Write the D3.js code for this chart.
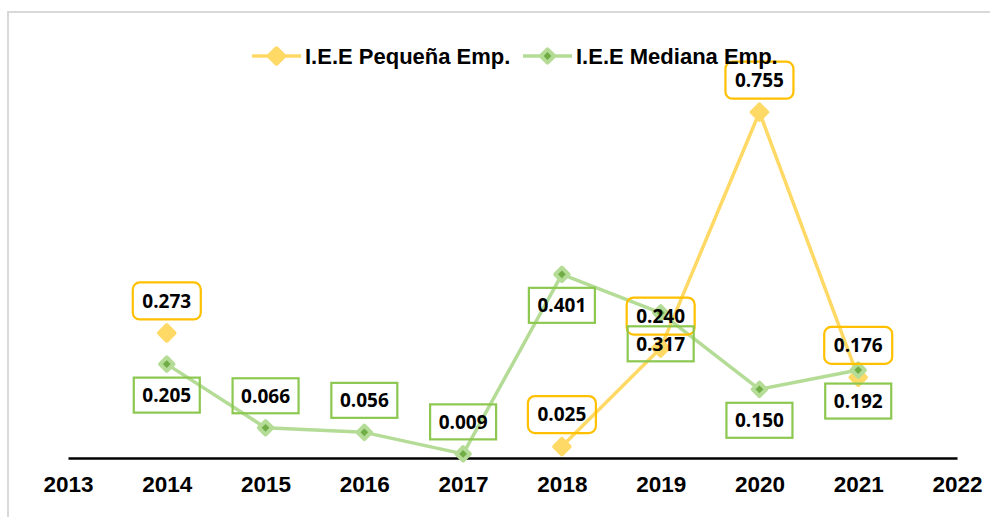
<!DOCTYPE html>
<html>
<head>
<meta charset="utf-8">
<script src="https://cdn.jsdelivr.net/npm/d3@7"></script>
<style>
  body { margin: 0; background: #fff; }
  svg { display: block; }
</style>
</head>
<body>
<svg id="chart" width="990" height="517"></svg>
<script>
// data
var years = [2013, 2014, 2015, 2016, 2017, 2018, 2019, 2020, 2021, 2022];
var dataYears = [2014, 2015, 2016, 2017, 2018, 2019, 2020, 2021];
var pequena = [0.273, null, null, null, 0.025, 0.240, 0.755, 0.176];
var mediana = [0.205, 0.066, 0.056, 0.009, 0.401, 0.317, 0.150, 0.192];
var pequenaLabelSide = ["up", null, null, null, "up", "up", "up", "up"];
var medianaLabelSide = ["down", "up", "up", "up", "down", "down", "down", "down"];
var seriesNames = ["I.E.E Pequeña Emp.", "I.E.E Mediana Emp."];

var svg = d3.select("#chart");

// outer frame (only top and left edges visible)
svg.append("rect")
    .attr("x", 8).attr("y", 12)
    .attr("width", 1000).attr("height", 520)
    .attr("fill", "none")
    .attr("stroke", "#d9d9d9")
    .attr("stroke-width", 2);

var x = d3.scalePoint().domain(years).range([68, 957]);
var y = d3.scaleLinear().domain([0, 0.8]).range([458, 91.6]);

// axis
var axis = svg.append("g")
    .attr("transform", "translate(0,458)")
    .call(d3.axisBottom(x).tickSize(0).tickPadding(18).tickFormat(d3.format("d")));
axis.select(".domain").attr("stroke", "#000").attr("stroke-width", 2.5);
axis.selectAll("text")
    .attr("font-family", "'Liberation Sans', Arial, sans-serif")
    .attr("font-weight", "bold")
    .attr("font-size", 22.5)
    .attr("fill", "#000");

var series = [
  { name: seriesNames[0], values: pequena, sides: pequenaLabelSide,
    line: "#ffd966", fill: "#ffd966", edge: "#ffd966", box: "#ffc000", rx: 7, bw: 68, bh: 37, msize: 120 },
  { name: seriesNames[1], values: mediana, sides: medianaLabelSide,
    line: "#b4dc96", fill: "#70ad47", edge: "#b4dc96", box: "#8cc850", rx: 0, bw: 66, bh: 35, msize: 90 }
];

series.forEach(function(s) {
  s.pts = dataYears.map(function(yr, i) { return { year: yr, v: s.values[i], side: s.sides[i] }; })
      .filter(function(d) { return true; });
  s.valid = s.pts.filter(function(d) { return d.v != null; });
});

var line = d3.line()
    .defined(function(d) { return d.v != null; })
    .x(function(d) { return x(d.year); })
    .y(function(d) { return y(d.v); });

var diamond = d3.symbol().type(d3.symbolSquare);

// lines and markers
series.forEach(function(s) {
  var g = svg.append("g");

  g.append("path")
      .datum(s.pts)
      .attr("d", line)
      .attr("fill", "none")
      .attr("stroke", s.line)
      .attr("stroke-width", 3.5)
      .attr("stroke-linejoin", "round");

  g.selectAll(".mk")
      .data(s.valid)
    .enter().append("path")
      .attr("class", "mk")
      .attr("d", diamond.size(s.msize))
      .attr("transform", function(d) { return "translate(" + x(d.year) + "," + y(d.v) + ") rotate(45)"; })
      .attr("fill", s.fill)
      .attr("stroke", s.edge)
      .attr("stroke-width", 4)
      .attr("stroke-linejoin", "round");
});

// data labels on top
series.forEach(function(s) {
  var lab = svg.append("g").selectAll(".lab")
      .data(s.valid)
    .enter().append("g")
      .attr("class", "lab")
      .attr("transform", function(d) {
        var off = d.side == "up" ? -32 : 31;
        return "translate(" + x(d.year) + "," + (y(d.v) + off) + ")";
      });

  lab.append("rect")
      .attr("x", -s.bw / 2).attr("y", -s.bh / 2)
      .attr("width", s.bw).attr("height", s.bh)
      .attr("rx", s.rx)
      .attr("fill", "none")
      .attr("stroke", s.box)
      .attr("stroke-width", 2.2);

  lab.append("text")
      .attr("text-anchor", "middle")
      .attr("dy", "0.36em")
      .attr("font-family", "'Open Sans', sans-serif")
      .attr("font-weight", "bold")
      .attr("font-size", 19)
      .attr("fill", "#000")
      .text(function(d) { return d3.format(".3f")(d.v); });
});

// legend
var legendX = [252, 523];
var legend = svg.selectAll(".legend")
    .data(series)
  .enter().append("g")
    .attr("class", "legend")
    .attr("transform", function(d, i) { return "translate(" + legendX[i] + ",56)"; });

legend.append("line")
    .attr("x1", 0).attr("x2", 49)
    .attr("stroke", function(d) { return d.line; })
    .attr("stroke-width", 3.5);

legend.append("path")
    .attr("d", function(d) { return diamond.size(d.msize)(); })
    .attr("transform", "translate(24.5,0) rotate(45)")
    .attr("fill", function(d) { return d.fill; })
    .attr("stroke", function(d) { return d.edge; })
    .attr("stroke-width", 4)
    .attr("stroke-linejoin", "round");

legend.append("text")
    .attr("x", 53)
    .attr("y", 7.5)
    .attr("font-family", "'Liberation Sans', Arial, sans-serif")
    .attr("font-weight", "bold")
    .attr("font-size", 22)
    .attr("fill", "#000")
    .text(function(d) { return d.name; });
</script>
</body>
</html>
